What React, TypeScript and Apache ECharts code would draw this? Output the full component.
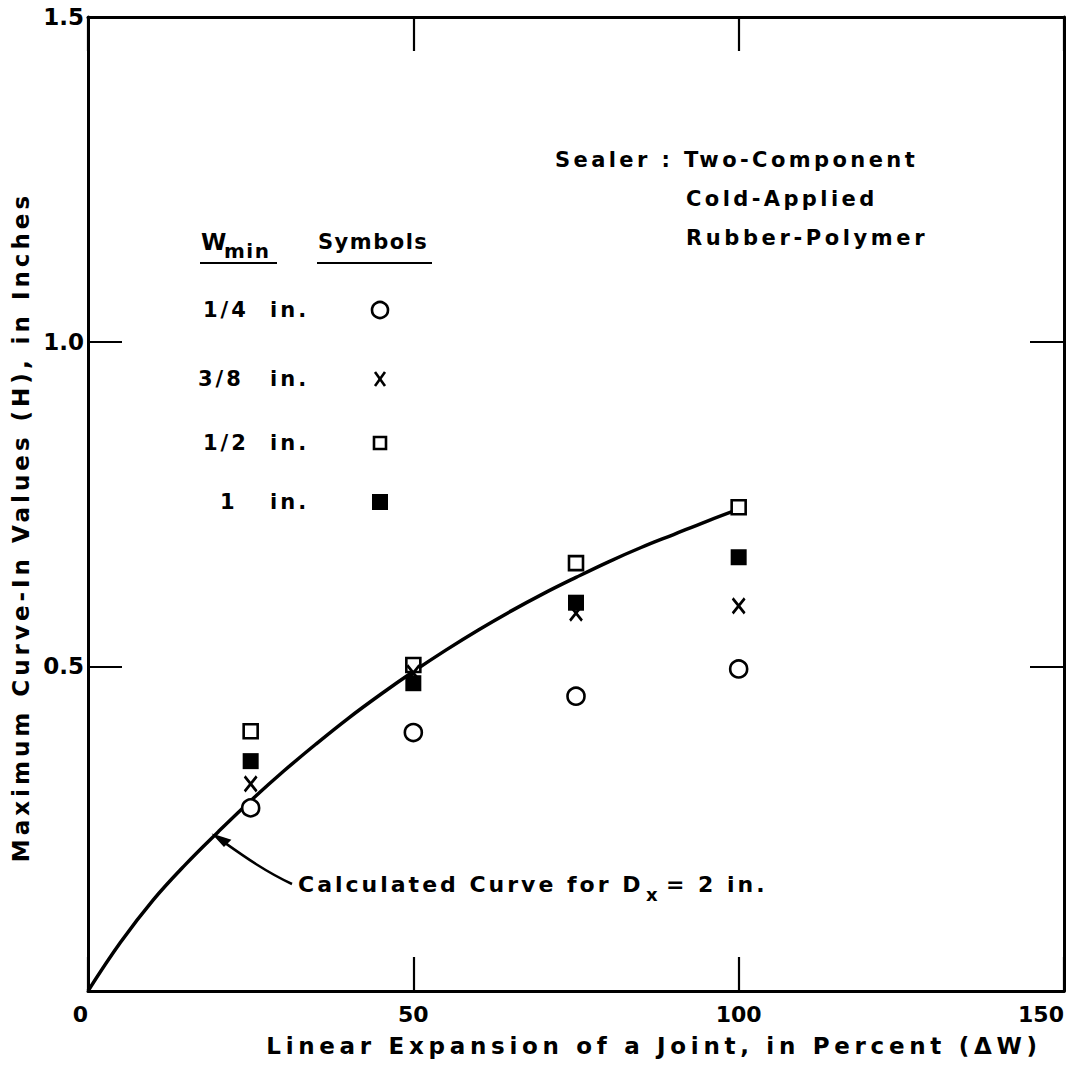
import React, { useEffect, useRef } from "react";
import * as echarts from "echarts";

// Linear expansion of the joint (ΔW, percent)
const expansion = [25, 50, 75, 100];

// Maximum curve-in values (H, inches) per minimum joint width
const quarterInch = [0.282, 0.398, 0.454, 0.496]; // 1/4 in.  (circle)
const threeEighthInch = [0.319, 0.49, 0.582, 0.593]; // 3/8 in.  (x)
const halfInch = [0.4, 0.502, 0.659, 0.745]; // 1/2 in.  (open square)
const oneInch = [0.354, 0.474, 0.598, 0.668]; // 1 in.    (filled square)

// Calculated curve for Dx = 2 in.
const curveX = [0, 5, 10, 15, 20, 25, 30, 35, 40, 45, 50, 55, 60, 65, 70, 75, 80, 85, 90, 95, 100];
const curveH = [
  0, 0.075, 0.14, 0.195, 0.245, 0.293, 0.338, 0.38, 0.42, 0.457, 0.492, 0.525, 0.556, 0.585,
  0.612, 0.637, 0.661, 0.683, 0.703, 0.723, 0.742,
];

const xTicks = [0, 50, 100, 150];
const yTickLabels = ["", "0.5", "1.0", "1.5"];

const legendWidths = ["1/4", "3/8", "1/2", "1"];
const sealerLines = ["Sealer : Two-Component", "Cold-Applied", "Rubber-Polymer"];

const X_TITLE = "Linear Expansion of a Joint, in Percent (ΔW)";
const Y_TITLE = "Maximum Curve-In Values (H), in Inches";
const NOTE_MAIN = "Calculated Curve for D";
const NOTE_TAIL = "= 2 in.";

// Extra tracking for the hand-lettered look (px), keyed by the drawn string
const TRACKING: Record<string, number> = {
  [X_TITLE]: 4.7,
  [Y_TITLE]: 4,
  [sealerLines[0]]: 3.4,
  [sealerLines[1]]: 3.4,
  [sealerLines[2]]: 3.6,
  "1/4": 3,
  "3/8": 3,
  "1/2": 3,
  "in.": 3,
  Symbols: 1.5,
  min: 1.5,
  [NOTE_MAIN]: 3,
  [NOTE_TAIL]: 3,
};

const FONT = "DejaVu Sans";
const INK = "#000";
const X_SYMBOL = "path://M0,0L12,14M12,0L0,14";

function applyTracking(root: HTMLElement | null) {
  if (!root) return;
  root.querySelectorAll("text").forEach((t) => {
    const s = TRACKING[(t.textContent || "").trim()];
    if (s) t.setAttribute("letter-spacing", String(s));
  });
}

export default function App() {
  const ref = useRef<HTMLDivElement>(null);

  useEffect(() => {
    if (!ref.current) return;
    const chart = echarts.init(ref.current, undefined, { renderer: "svg" });

    const pair = (ys: number[]) => expansion.map((x, i) => [x, ys[i]]);

    const axisLine = { show: true, onZero: false, lineStyle: { color: INK, width: 3 } };
    const axisTick = { show: true, inside: true, length: 34, lineStyle: { color: INK, width: 2.2 } };

    const rowY = [310, 379, 443, 502];
    const rowX = [203, 198, 203, 220];
    const symX = 380;
    const txt = (text: string, x: number, y: number, size: number) => ({
      type: "text",
      x,
      y,
      style: { text, font: `bold ${size}px '${FONT}'`, fill: INK, verticalAlign: "middle" },
    });

    const legendGraphics: any[] = [
      txt("W", 201, 242, 23),
      txt("min", 224, 251, 20),
      { type: "line", shape: { x1: 200, y1: 263, x2: 277, y2: 263 }, style: { stroke: INK, lineWidth: 2 } },
      txt("Symbols", 318, 242, 21),
      { type: "line", shape: { x1: 317, y1: 263, x2: 432, y2: 263 }, style: { stroke: INK, lineWidth: 2 } },
      ...legendWidths.map((t, i) => txt(t, rowX[i], rowY[i], 21)),
      ...legendWidths.map((_, i) => txt("in.", 270, rowY[i], 21)),
      { type: "circle", shape: { cx: symX, cy: rowY[0], r: 8 }, style: { fill: "#fff", stroke: INK, lineWidth: 2.6 } },
      { type: "line", shape: { x1: symX - 5, y1: rowY[1] - 7, x2: symX + 5, y2: rowY[1] + 7 }, style: { stroke: INK, lineWidth: 2.6 } },
      { type: "line", shape: { x1: symX + 5, y1: rowY[1] - 7, x2: symX - 5, y2: rowY[1] + 7 }, style: { stroke: INK, lineWidth: 2.6 } },
      { type: "rect", shape: { x: symX - 6, y: rowY[2] - 6, width: 12, height: 12 }, style: { fill: "#fff", stroke: INK, lineWidth: 2.6 } },
      { type: "rect", shape: { x: symX - 8, y: rowY[3] - 8, width: 16, height: 16 }, style: { fill: INK } },
    ];

    const sealerGraphics: any[] = sealerLines.map((t, i) => txt(t, i === 0 ? 555 : 686, 160 + i * 39, 21));

    const annotation: any[] = [
      txt(NOTE_MAIN, 298, 884, 22),
      txt("x", 646, 894, 18),
      txt(NOTE_TAIL, 666, 884, 22),
      {
        type: "bezierCurve",
        shape: { x1: 292, y1: 884, cpx1: 262, cpy1: 870, cpx2: 238, cpy2: 852, x2: 218, y2: 838 },
        style: { stroke: INK, lineWidth: 2.5, fill: "none" },
      },
      {
        type: "polygon",
        shape: { points: [[214, 835], [230, 840], [224, 846]] },
        style: { fill: INK, stroke: INK, lineWidth: 1.5 },
      },
    ];

    const option: any = {
      animation: false,
      backgroundColor: "#fff",
      textStyle: { fontFamily: FONT },
      grid: { left: 88, right: 18, top: 17, bottom: 75, containLabel: false, outerBoundsMode: "none" },
      xAxis: [
        {
          type: "value",
          min: 0,
          max: 150,
          interval: 50,
          position: "bottom",
          axisLine,
          axisTick,
          splitLine: { show: false },
          axisLabel: {
            color: INK,
            fontSize: 22,
            fontWeight: "bold",
            fontFamily: FONT,
            margin: 12,
            alignMinLabel: "right",
            alignMaxLabel: "right",
            formatter: (v: number) => (xTicks.includes(v) ? String(v) : ""),
          },
          name: X_TITLE,
          nameLocation: "middle",
          nameGap: 43,
          nameTextStyle: { color: INK, fontSize: 23, fontWeight: "bold", fontFamily: FONT, padding: [0, 0, 0, 156] },
        },
        {
          type: "value",
          min: 0,
          max: 150,
          interval: 50,
          position: "top",
          axisLine,
          axisTick,
          splitLine: { show: false },
          axisLabel: { show: false },
        },
      ],
      yAxis: [
        {
          type: "value",
          min: 0,
          max: 1.5,
          interval: 0.5,
          position: "left",
          axisLine,
          axisTick,
          splitLine: { show: false },
          axisLabel: {
            color: INK,
            fontSize: 23,
            fontWeight: "bold",
            fontFamily: FONT,
            margin: 4,
            formatter: (v: number) => yTickLabels[Math.round(v / 0.5)] ?? "",
          },
          name: Y_TITLE,
          nameLocation: "middle",
          nameGap: 48,
          nameTextStyle: { color: INK, fontSize: 23, fontWeight: "bold", fontFamily: FONT, padding: [0, 46, 0, 0] },
        },
        {
          type: "value",
          min: 0,
          max: 1.5,
          interval: 0.5,
          position: "right",
          axisLine,
          axisTick,
          splitLine: { show: false },
          axisLabel: { show: false },
        },
      ],
      series: [
        {
          name: "Calculated Curve",
          type: "line",
          data: curveX.map((x, i) => [x, curveH[i]]),
          smooth: 0.4,
          showSymbol: false,
          lineStyle: { color: INK, width: 3.5 },
          z: 1,
        },
        {
          name: "1/4 in.",
          type: "scatter",
          data: pair(quarterInch),
          symbol: "circle",
          symbolSize: 17,
          itemStyle: { color: "#fff", borderColor: INK, borderWidth: 2.6, opacity: 1 },
          z: 3,
        },
        {
          name: "1/2 in.",
          type: "scatter",
          data: pair(halfInch),
          symbol: "rect",
          symbolSize: 14,
          itemStyle: { color: "#fff", borderColor: INK, borderWidth: 2.6, opacity: 1 },
          z: 3,
        },
        {
          name: "3/8 in.",
          type: "scatter",
          data: pair(threeEighthInch),
          symbol: X_SYMBOL,
          symbolSize: [12, 15],
          itemStyle: { color: "none", borderColor: INK, borderWidth: 2.8, opacity: 1 },
          z: 4,
        },
        {
          name: "1 in.",
          type: "scatter",
          data: pair(oneInch),
          symbol: "rect",
          symbolSize: 16,
          itemStyle: { color: INK, opacity: 1 },
          z: 5,
        },
      ],
      graphic: [...legendGraphics, ...sealerGraphics, ...annotation],
    };

    chart.setOption(option);
    const el = ref.current;
    applyTracking(el);
    chart.on("finished", () => applyTracking(el));
    const raf = requestAnimationFrame(() => applyTracking(el));
    return () => {
      cancelAnimationFrame(raf);
      chart.dispose();
    };
  }, []);

  return (
    <div
      ref={ref}
      style={{ position: "absolute", left: 0, top: 0, width: 1082, height: 1066, background: "#fff" }}
    />
  );
}
